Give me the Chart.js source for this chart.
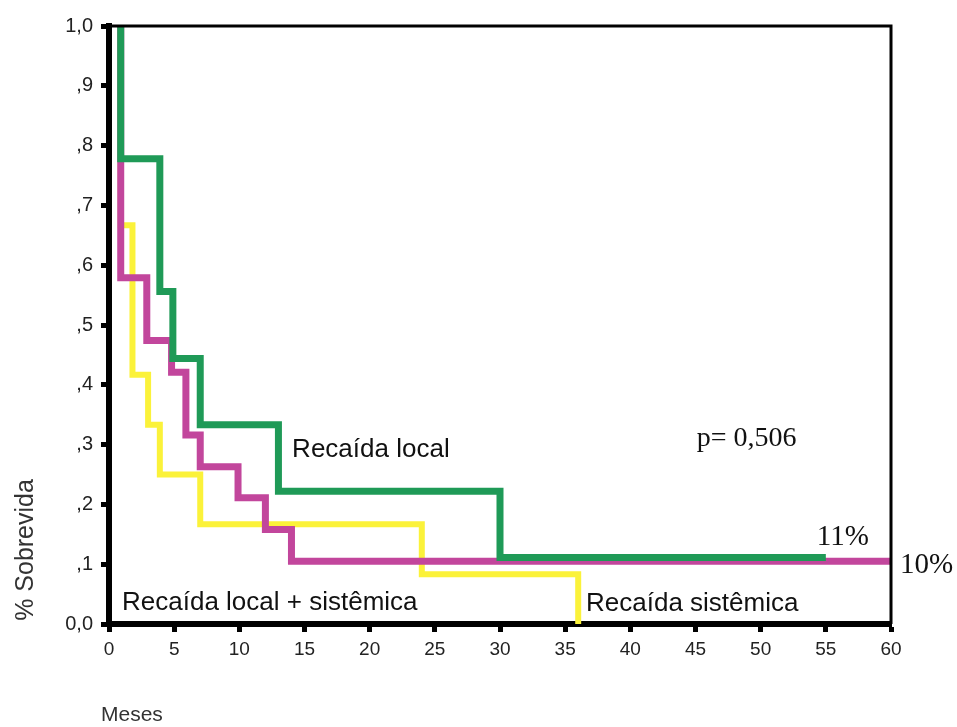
<!DOCTYPE html>
<html>
<head>
<meta charset="utf-8">
<script src="https://cdn.jsdelivr.net/npm/chart.js@4.4.1/dist/chart.umd.min.js"></script>
<style>
  html, body { margin: 0; padding: 0; background: #ffffff; }
  #wrap { width: 957px; height: 727px; position: relative; }
</style>
</head>
<body>
<div id="wrap"><canvas id="km" width="957" height="727"></canvas></div>
<script>
// Survival (Kaplan-Meier) curves by type of relapse, months 0-60
const monthTickLabels = ['0', '5', '10', '15', '20', '25', '30', '35', '40', '45', '50', '55', '60'];
const survivalTickLabels = ['0,0', ',1', ',2', ',3', ',4', ',5', ',6', ',7', ',8', ',9', '1,0'];

// Recaída local
const localMonths   = [0.9, 0.9, 3.9, 4.9, 7, 13, 30, 55];
const localSurvival = [1, 0.778, 0.556, 0.444, 0.333, 0.222, 0.111, 0.111];

// Recaída local + sistêmica
const mixedMonths   = [0.9, 0.9, 2.9, 4.8, 5.9, 7, 9.9, 12, 14, 60];
const mixedSurvival = [1, 0.579, 0.474, 0.421, 0.316, 0.263, 0.211, 0.158, 0.105, 0.105];

// Recaída sistêmica
const systemicMonths   = [0.9, 0.9, 1.8, 3, 3.9, 7, 24, 36];
const systemicSurvival = [1, 0.667, 0.417, 0.333, 0.25, 0.167, 0.083, 0];

const curveNames = ['Recaída sistêmica', 'Recaída local + sistêmica', 'Recaída local'];
const pValueText = 'p= 0,506';
const localEndText = '11%';
const mixedEndText = '10%';

const toPoints = (xs, ys) => xs.map((x, i) => ({ x: x, y: ys[i] }));

// Text notes anchored in data coordinates (month, survival)
const notes = [
  { text: curveNames[2], x: 14.05, y: 0.279, font: '26px "Liberation Sans", Arial, sans-serif' },
  { text: curveNames[1], x: 1.0,  y: 0.023, font: '26px "Liberation Sans", Arial, sans-serif' },
  { text: curveNames[0], x: 36.6, y: 0.021, font: '26px "Liberation Sans", Arial, sans-serif' },
  { text: pValueText,    x: 45.1, y: 0.297, font: '28px "Liberation Serif", "Times New Roman", serif' },
  { text: localEndText,  x: 54.3, y: 0.132, font: '29px "Liberation Serif", "Times New Roman", serif' },
  { text: mixedEndText,  x: 60.7, y: 0.086, font: '29px "Liberation Serif", "Times New Roman", serif' }
];

const framePlugin = {
  id: 'frame',
  afterDatasetsDraw(chart) {
    const { ctx, chartArea: a } = chart;
    ctx.save();
    ctx.strokeStyle = '#000000';
    ctx.lineWidth = 3;
    ctx.beginPath();
    ctx.moveTo(a.left, a.top);
    ctx.lineTo(a.right, a.top);
    ctx.lineTo(a.right, a.bottom);
    ctx.stroke();
    ctx.restore();
  },
  afterDraw(chart) {
    const { ctx, scales } = chart;
    ctx.save();
    ctx.fillStyle = '#111111';
    ctx.textBaseline = 'alphabetic';
    ctx.textAlign = 'left';
    notes.forEach(n => {
      ctx.font = n.font;
      ctx.fillText(n.text, scales.x.getPixelForValue(n.x), scales.y.getPixelForValue(n.y));
    });
    // axis titles
    ctx.fillStyle = '#333333';
    ctx.font = '21px "Liberation Sans", Arial, sans-serif';
    ctx.fillText('Meses', 101, 721);
    ctx.translate(26, 550);
    ctx.rotate(-Math.PI / 2);
    ctx.textAlign = 'center';
    ctx.textBaseline = 'middle';
    ctx.font = '25px "Liberation Sans", Arial, sans-serif';
    ctx.fillText('% Sobrevida', 0, 0);
    ctx.restore();
  }
};

const lineStyle = {
  stepped: 'before',
  fill: false,
  pointRadius: 0,
  pointHoverRadius: 0,
  borderJoinStyle: 'miter',
  borderCapStyle: 'butt',
  tension: 0
};

new Chart(document.getElementById('km'), {
  type: 'line',
  data: {
    datasets: [
      Object.assign({ label: curveNames[0], data: toPoints(systemicMonths, systemicSurvival),
        borderColor: '#fbf23a', borderWidth: 6, order: 3 }, lineStyle),
      Object.assign({ label: curveNames[1], data: toPoints(mixedMonths, mixedSurvival),
        borderColor: '#c2469c', borderWidth: 7, order: 2 }, lineStyle),
      Object.assign({ label: curveNames[2], data: toPoints(localMonths, localSurvival),
        borderColor: '#1f9a57', borderWidth: 7, order: 1 }, lineStyle)
    ]
  },
  options: {
    responsive: false,
    animation: false,
    devicePixelRatio: 1,
    layout: { padding: { left: 0, top: 26, right: 66, bottom: 0 } },
    plugins: { legend: { display: false }, tooltip: { enabled: false } },
    scales: {
      x: {
        type: 'linear',
        min: 0, max: 60,
        afterFit(scale) { scale.height = 103; },
        ticks: {
          stepSize: 5,
          padding: 6,
          color: '#222222',
          font: { family: '"Liberation Sans", Arial, sans-serif', size: 19 },
          callback: (v, i) => monthTickLabels[i]
        },
        grid: { drawOnChartArea: false, drawTicks: true, tickLength: 8, tickWidth: 5, tickColor: '#000000' },
        border: { display: true, color: '#000000', width: 6 }
      },
      y: {
        type: 'linear',
        min: 0, max: 1,
        afterFit(scale) { scale.width = 109; },
        ticks: {
          stepSize: 0.1,
          padding: 8,
          color: '#222222',
          font: { family: '"Liberation Sans", Arial, sans-serif', size: 20 },
          callback: (v, i) => survivalTickLabels[i]
        },
        grid: { drawOnChartArea: false, drawTicks: true, tickLength: 8, tickWidth: 5, tickColor: '#000000' },
        border: { display: true, color: '#000000', width: 6 }
      }
    }
  },
  plugins: [framePlugin]
});
</script>
</body>
</html>
